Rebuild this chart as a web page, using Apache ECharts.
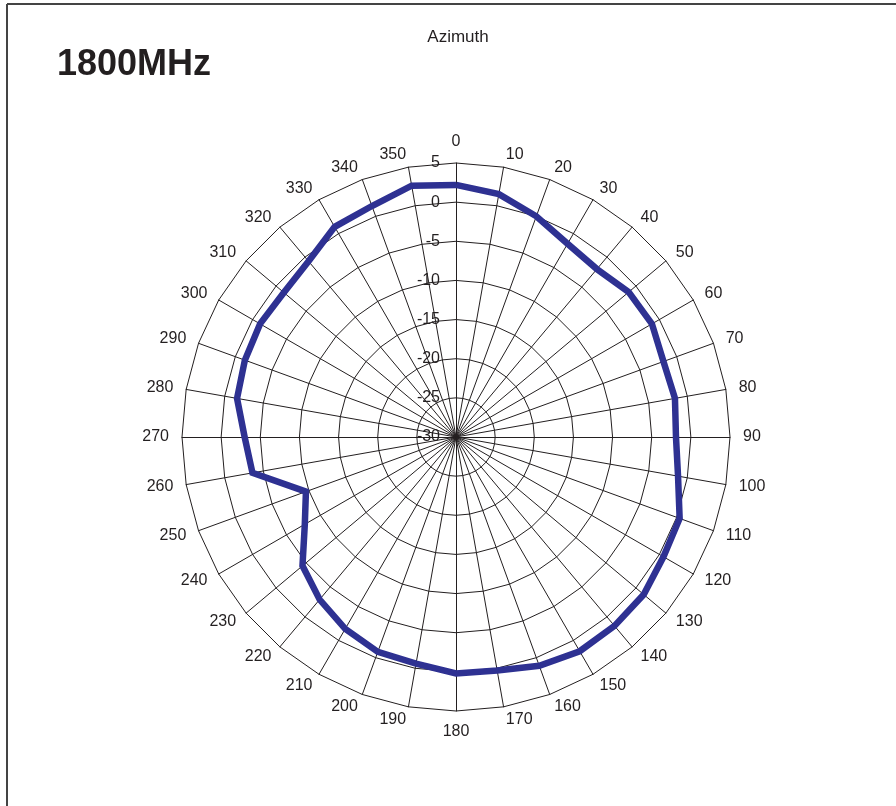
<!DOCTYPE html>
<html>
<head>
<meta charset="utf-8">
<script src="https://cdn.jsdelivr.net/npm/echarts@6/dist/echarts.min.js"></script>
<style>
html,body{margin:0;padding:0;background:#fff;}
#chart{width:896px;height:806px;}
</style>
</head>
<body>
<div id="chart"></div>
<script>
// Azimuth angles (degrees, clockwise from top)
const angles = [0,10,20,30,40,50,60,70,80,90,100,110,120,130,140,150,160,170,180,190,200,210,220,230,240,250,260,270,280,290,300,310,320,330,340,350];
// Gain values (dB)
const gain = [2.2,1.5,0.0,-1.5,-2.0,-1.2,-1.1,-1.8,-1.6,-1.9,-1.2,0.4,0.6,1.3,1.5,1.6,1.1,0.3,0.2,-0.6,-0.8,-1.7,-2.9,-4.4,-7.7,-9.6,-3.6,-3.0,-1.6,-1.3,-1.1,-1.3,-0.7,1.0,1.4,2.6];
// Radial tick range
const rMin = -30, rMax = 5, rStep = 5;
const titleText = '1800MHz';
const subText = 'Azimuth';

const center = [456, 437];
const radius = 274;
const ink = '#231f20';
const font = '"Liberation Sans", Arial, sans-serif';

// radar indicators laid out counter-clockwise from top: 0, 350, 340, ..., 10
const indicatorOrder = [0].concat(angles.slice(1).reverse());
const indicators = indicatorOrder.map(a => ({ name: String(a), min: rMin, max: rMax }));

const lineData = angles.map((a, i) => [gain[i], a]);
lineData.push([gain[0], 360]);

const chart = echarts.init(document.getElementById('chart'), null, { renderer: 'canvas' });
chart.setOption({
  animation: false,
  backgroundColor: '#fff',
  title: [
    { text: titleText, left: 52, top: 42, textStyle: { fontFamily: font, fontWeight: 'bold', fontSize: 36, color: ink } },
    { text: subText, left: 453, top: 24, textAlign: 'center', textStyle: { fontFamily: font, fontWeight: 'normal', fontSize: 17, color: ink } }
  ],
  graphic: [
    { type: 'line', shape: { x1: 7, y1: 4, x2: 896, y2: 4 }, style: { stroke: '#444', lineWidth: 2 } },
    { type: 'line', shape: { x1: 7, y1: 4, x2: 7, y2: 806 }, style: { stroke: '#444', lineWidth: 2 } }
  ],
  radar: {
    center: center,
    radius: radius,
    startAngle: 90,
    shape: 'polygon',
    splitNumber: 7,
    indicator: indicators,
    nameGap: 13,
    axisName: { color: ink, fontFamily: font, fontSize: 16 },
    axisLine: { show: true, lineStyle: { color: ink, width: 1 } },
    splitLine: { show: true, lineStyle: { color: ink, width: 1 } },
    splitArea: { show: false },
    axisTick: { show: false },
    axisLabel: { show: false }
  },
  polar: { center: center, radius: radius },
  angleAxis: {
    type: 'value', min: 0, max: 360, startAngle: 90, clockwise: true,
    axisLine: { show: false }, axisTick: { show: false }, axisLabel: { show: false }, splitLine: { show: false }
  },
  radiusAxis: {
    type: 'value', min: rMin, max: rMax, interval: rStep,
    axisLine: { show: false }, axisTick: { show: false }, splitLine: { show: false },
    axisLabel: { show: true, color: ink, fontFamily: font, fontSize: 16, margin: 16 }
  },
  series: [{
    type: 'line',
    coordinateSystem: 'polar',
    data: lineData,
    symbol: 'none',
    smooth: false,
    lineStyle: { color: '#2e3192', width: 6.5, join: 'miter' },
    z: 10
  }]
});
</script>
</body>
</html>
